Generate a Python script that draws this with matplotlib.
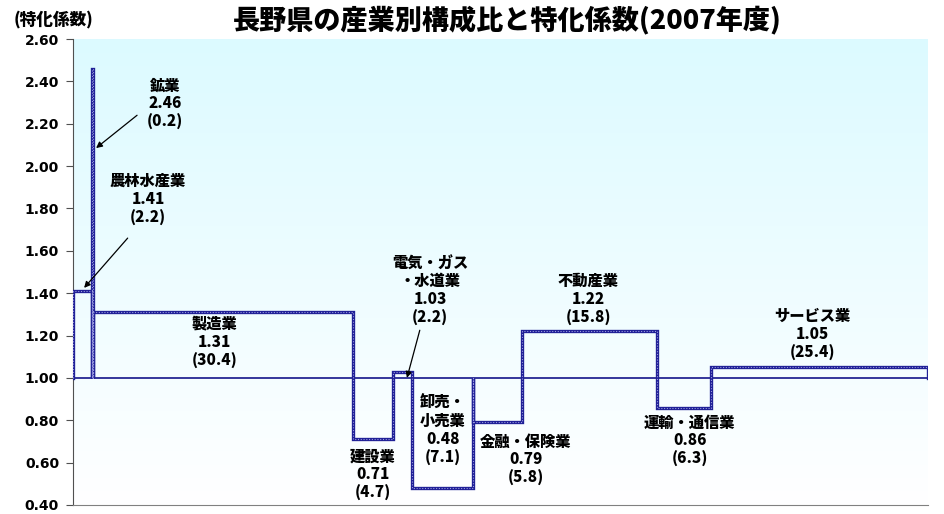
import matplotlib
matplotlib.use("Agg")
import matplotlib.pyplot as plt
import numpy as np

plt.rcParams["font.family"] = ["Noto Sans CJK JP", "DejaVu Sans"]
plt.rcParams["font.weight"] = "bold"

# industries in drawing order, width = composition ratio (%), height = specialization coefficient
industries = ["農林水産業", "鉱業", "製造業", "建設業", "電気・ガス・水道業",
              "卸売・小売業", "金融・保険業", "不動産業", "運輸・通信業", "サービス業"]
shares = [2.2, 0.2, 30.4, 4.7, 2.2, 7.1, 5.8, 15.8, 6.3, 25.4]
coefs = [1.41, 2.46, 1.31, 0.71, 1.03, 0.48, 0.79, 1.22, 0.86, 1.05]

# label text lines shown on the chart, and where they sit (data coords)
label_names = ["農林水産業", "鉱業", "製造業", "建設業", "電気・ガス\n・水道業",
               "卸売・\n小売業", "金融・保険業", "不動産業", "運輸・通信業", "サービス業"]
label_pos = [(8.8, 1.84), (10.8, 2.29), (16.6, 1.165), (35.1, 0.54), (41.8, 1.41),
             (43.3, 0.75), (53.0, 0.61), (60.3, 1.368), (72.2, 0.70), (86.6, 1.203)]
# arrows: label index -> (tail, head)
arrows = {0: ((6.4, 1.66), (1.3, 1.425)),
          1: ((7.5, 2.24), (2.7, 2.085)),
          4: ((40.6, 1.225), (39.1, 1.0))}

fig = plt.figure(figsize=(9.45, 5.14), dpi=100)
ax = fig.add_axes([73 / 945, 9 / 514, 855 / 945, 466 / 514])

total = sum(shares)
lefts = np.concatenate([[0], np.cumsum(shares)[:-1]])
rights = np.cumsum(shares)

ax.set_xlim(0, total)
ax.set_ylim(0.4, 2.6)

# background gradient light cyan -> white
grad = np.linspace(0, 1, 256).reshape(-1, 1)
top = np.array([220, 250, 255]) / 255
bot = np.array([255, 255, 255]) / 255
img = bot + (top - bot) * grad[:, :, None] * np.ones((1, 2, 1))
ax.imshow(img, extent=[0, total, 0.4, 2.6], origin="lower", aspect="auto", zorder=0)

ax.axhline(1.0, color="#000080", lw=1.1, zorder=2)

# stepped outline of the variable-width bars
xs, ys = [], []
for l, r, h in zip(lefts, rights, coefs):
    xs += [l, l, r, r]
    ys += [1.0, h, h, 1.0]
ax.plot(xs, ys, color="#1f1f96", lw=2.4, solid_joinstyle="miter", zorder=3)
ax.plot(xs, ys, color="#9a9ae0", lw=0.8, ls=(0, (1, 1.5)), zorder=4)

for i, (name, (tx, ty)) in enumerate(zip(label_names, label_pos)):
    txt = f"{name}\n{coefs[i]:.2f}\n({shares[i]:.1f})"
    ax.text(tx, ty, txt, ha="center", va="center", multialignment="center",
            fontsize=11, fontweight="heavy", linespacing=1.22, zorder=5)

for i, (tail, head) in arrows.items():
    ax.annotate("", xy=head, xytext=tail,
                arrowprops=dict(arrowstyle="-|>", color="black", lw=0.9,
                                mutation_scale=9, shrinkA=0, shrinkB=0), zorder=6)

ax.set_yticks(np.arange(0.4, 2.61, 0.2))
ax.set_yticklabels([f"{v:.2f}" for v in np.arange(0.4, 2.61, 0.2)],
                   fontsize=10, fontweight="bold", family="DejaVu Sans")
ax.set_xticks([])
ax.tick_params(axis="y", length=5, color="#505050", pad=5)
for s in ["top", "right"]:
    ax.spines[s].set_visible(False)
ax.spines["left"].set_color("#505050")
ax.spines["bottom"].set_color("#808080")

fig.text(0.537, 0.962, "長野県の産業別構成比と特化係数(2007年度)", ha="center", va="center",
         fontsize=19.5, fontweight="heavy")
fig.text(0.057, 0.962, "(特化係数)", ha="center", va="center", fontsize=12, fontweight="heavy")

fig.savefig("out.png", dpi=100)
